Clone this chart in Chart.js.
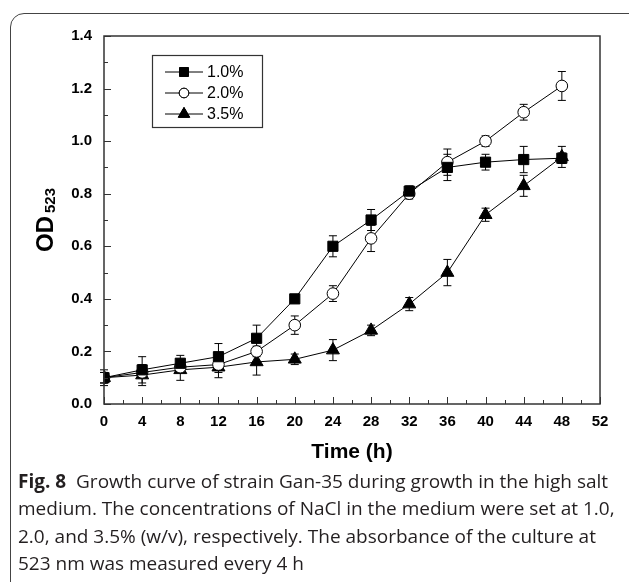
<!DOCTYPE html>
<html>
<head>
<meta charset="utf-8">
<script src="https://cdn.jsdelivr.net/npm/chart.js@4.4.0/dist/chart.umd.min.js"></script>
<style>
    body { margin: 0; background: #fff; width: 629px; height: 582px; overflow: hidden; position: relative; }
    #frame { position: absolute; left: 10px; top: 13px; width: 660px; height: 620px; border: 1.5px solid #444; border-radius: 14px; }
    #wrap { position: absolute; left: 0; top: 0; width: 629px; height: 470px; }
    #caption { position: absolute; left: 18px; top: 468px; width: 611px; white-space: nowrap; font-family: "Open Sans", sans-serif; font-size: 19px; line-height: 27.3px; color: #231f20; letter-spacing: 0px; }
    #caption b { font-weight: 700; }
</style>
</head>
<body>
<div id="frame"></div>
<div id="wrap"><canvas id="myChart"></canvas></div>
<div id="caption"><b>Fig. 8</b>&nbsp; Growth curve of strain Gan-35 during growth in the high salt<br>medium. The concentrations of NaCl in the medium were set at 1.0,<br>2.0, and 3.5% (w/v), respectively. The absorbance of the culture at<br>523 nm was measured every 4 h</div>
<script>
const hours = [0, 4, 8, 12, 16, 20, 24, 28, 32, 36, 40, 44, 48];
const labels = ['1.0%', '2.0%', '3.5%'];
const od10 = [0.10, 0.13, 0.155, 0.18, 0.25, 0.40, 0.60, 0.70, 0.81, 0.90, 0.92, 0.93, 0.935];
const od20 = [0.10, 0.12, 0.14, 0.15, 0.20, 0.30, 0.42, 0.63, 0.80, 0.92, 1.00, 1.11, 1.21];
const od35 = [0.10, 0.11, 0.13, 0.14, 0.16, 0.17, 0.205, 0.28, 0.38, 0.50, 0.72, 0.83, 0.94];
const err10 = [0.02, 0.05, 0.03, 0.05, 0.05, 0.01, 0.04, 0.04, 0.02, 0.05, 0.03, 0.05, 0.02];
const err20 = [0.02, 0.02, 0.02, 0.03, 0.02, 0.035, 0.03, 0.05, 0.02, 0.05, 0.02, 0.03, 0.055];
const err35 = [0.03, 0.04, 0.04, 0.04, 0.05, 0.02, 0.04, 0.02, 0.025, 0.05, 0.025, 0.04, 0.04];
const xTicks = [0, 4, 8, 12, 16, 20, 24, 28, 32, 36, 40, 44, 48, 52];
const yTicks = [0.0, 0.2, 0.4, 0.6, 0.8, 1.0, 1.2, 1.4];

const styles = [
    { pointStyle: 'rect', radius: 7.2, fill: '#000' },
    { pointStyle: 'circle', radius: 5.8, fill: '#fff' },
    { pointStyle: 'triangle', radius: 7.5, fill: '#000' }
];
const series = [od10, od20, od35];
const errors = [err10, err20, err35];

const datasets = series.map((values, i) => ({
    label: labels[i],
    data: hours.map((h, j) => ({ x: h, y: values[j] })),
    errors: errors[i],
    borderColor: '#000',
    borderWidth: 1,
    pointStyle: styles[i].pointStyle,
    pointRadius: styles[i].radius,
    pointBackgroundColor: styles[i].fill,
    pointBorderColor: '#000',
    pointBorderWidth: 1,
    tension: 0,
    fill: false
}));

// error bars behind points
const errorBars = {
    id: 'errorBars',
    beforeDatasetsDraw(chart) {
        const ctx = chart.ctx;
        const xs = chart.scales.x, ys = chart.scales.y;
        ctx.save();
        ctx.strokeStyle = '#000';
        ctx.lineWidth = 1;
        chart.data.datasets.forEach(ds => {
            ds.data.forEach((p, j) => {
                const e = ds.errors[j];
                const px = xs.getPixelForValue(p.x);
                const top = ys.getPixelForValue(p.y + e);
                const bot = ys.getPixelForValue(p.y - e);
                ctx.beginPath();
                ctx.moveTo(px, top); ctx.lineTo(px, bot);
                ctx.moveTo(px - 4, top); ctx.lineTo(px + 4, top);
                ctx.moveTo(px - 4, bot); ctx.lineTo(px + 4, bot);
                ctx.stroke();
            });
        });
        ctx.restore();
    }
};

// box, inner ticks, axis titles, legend
const decor = {
    id: 'decor',
    afterDraw(chart) {
        const ctx = chart.ctx;
        const a = chart.chartArea;
        const xs = chart.scales.x, ys = chart.scales.y;
        ctx.save();
        ctx.strokeStyle = '#333';
        ctx.lineWidth = 1.5;
        ctx.strokeRect(a.left, a.top, a.right - a.left, a.bottom - a.top);

        ctx.lineWidth = 1;
        ctx.beginPath();
        for (let v = 0; v <= 52; v += 2) {
            const px = Math.round(xs.getPixelForValue(v)) + 0.5;
            const len = v % 4 === 0 ? 7 : 4;
            ctx.moveTo(px, a.bottom); ctx.lineTo(px, a.bottom - len);
        }
        for (let k = 0; k <= 14; k++) {
            const py = Math.round(ys.getPixelForValue(k / 10)) + 0.5;
            const len = k % 2 === 0 ? 7 : 4;
            ctx.moveTo(a.left, py); ctx.lineTo(a.left + len, py);
        }
        ctx.stroke();

        // axis titles
        ctx.fillStyle = '#000';
        ctx.font = 'bold 21px "Liberation Sans", Arial';
        ctx.textAlign = 'center';
        ctx.textBaseline = 'middle';
        ctx.fillText('Time (h)', (a.left + a.right) / 2, 452);

        ctx.save();
        ctx.translate(44, (a.top + a.bottom) / 2);
        ctx.rotate(-Math.PI / 2);
        ctx.textAlign = 'left';
        ctx.textBaseline = 'alphabetic';
        ctx.font = 'bold 24px "Liberation Sans", Arial';
        const w1 = ctx.measureText('OD').width;
        ctx.font = 'bold 15px "Liberation Sans", Arial';
        const w2 = ctx.measureText('523').width;
        const start = -(w1 + w2 + 3) / 2;
        ctx.font = 'bold 24px "Liberation Sans", Arial';
        ctx.fillText('OD', start, 8.5);
        ctx.font = 'bold 15px "Liberation Sans", Arial';
        ctx.fillText('523', start + w1 + 3, 11);
        ctx.restore();

        // legend
        ctx.strokeStyle = '#333';
        ctx.lineWidth = 1.2;
        ctx.strokeRect(152.5, 55.5, 110, 72);
        ctx.font = '16px "Liberation Sans", Arial';
        ctx.textAlign = 'left';
        ctx.textBaseline = 'middle';
        chart.data.datasets.forEach((ds, i) => {
            const y = 72 + i * 21;
            ctx.strokeStyle = '#000';
            ctx.lineWidth = 1;
            ctx.beginPath();
            ctx.moveTo(165, y); ctx.lineTo(203, y);
            ctx.stroke();
            ctx.fillStyle = ds.pointBackgroundColor;
            Chart.helpers.drawPoint(ctx, { pointStyle: ds.pointStyle, radius: ds.pointRadius - 1, borderWidth: 1 }, 184, y);
            ctx.fill();
            ctx.stroke();
            ctx.fillStyle = '#000';
            ctx.fillText(ds.label, 207, y + 1);
        });
        ctx.restore();
    }
};

const ctx = document.getElementById('myChart').getContext('2d');

new Chart(ctx, {
    type: 'line',
    data: { datasets: datasets },
    options: {
        animation: false,
        responsive: true,
        maintainAspectRatio: false,
        layout: { padding: { top: 36, right: 29, bottom: 0, left: 0 } },
        plugins: {
            legend: { display: false },
            tooltip: { enabled: false }
        },
        scales: {
            x: {
                type: 'linear',
                min: 0,
                max: 52,
                afterFit: scale => { scale.height = 66; },
                afterBuildTicks: scale => { scale.ticks = xTicks.map(v => ({ value: v })); },
                grid: { display: false, drawTicks: false },
                border: { display: false },
                ticks: {
                    padding: 9,
                    color: '#000',
                    font: { family: '"Liberation Sans", Arial', size: 15, weight: 'bold' }
                }
            },
            y: {
                min: 0,
                max: 1.4,
                afterFit: scale => { scale.width = 104; },
                afterBuildTicks: scale => { scale.ticks = yTicks.map(v => ({ value: v })); },
                grid: { display: false, drawTicks: false },
                border: { display: false },
                ticks: {
                    padding: 12,
                    color: '#000',
                    callback: v => v.toFixed(1),
                    font: { family: '"Liberation Sans", Arial', size: 15, weight: 'bold' }
                }
            }
        }
    },
    plugins: [errorBars, decor]
});
</script>
</body>
</html>
